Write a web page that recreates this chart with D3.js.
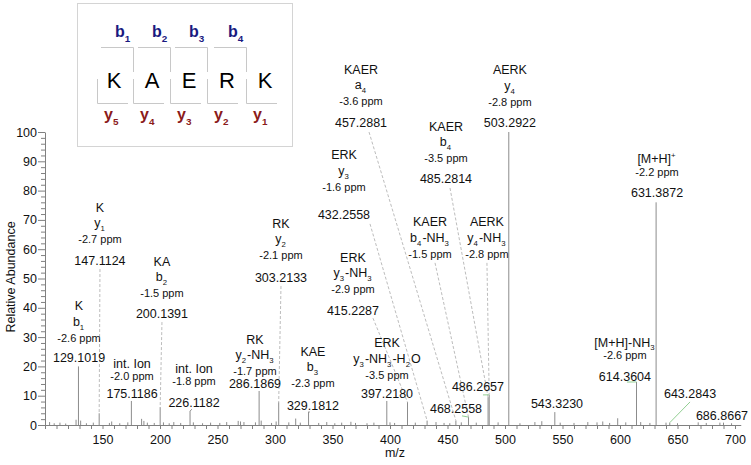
<!DOCTYPE html>
<html>
<head>
<meta charset="utf-8">
<script src="https://d3js.org/d3.v7.min.js"></script>
<style>
  body { margin: 0; background: #fff; }
  svg { font-family: "Liberation Sans", Arial, sans-serif; }
</style>
</head>
<body>
<div id="chart"></div>
<script>
// annotated peaks
var peakMz  = [129.1019, 147.1124, 175.1186, 200.1391, 226.1182, 286.1869, 303.2133, 329.1812,
               397.2180, 415.2287, 432.2558, 457.2881, 468.2558, 485.2814, 486.2657, 503.2922,
               543.3230, 614.3604, 631.3872, 643.2843, 686.8667];
var peakInt = [20, 4, 8.2, 6.1, 4.8, 11.6, 7.8, 4.5,
               8.2, 7.8, 1.5, 1.5, 2.7, 9.5, 10.3, 100,
               4.4, 14.7, 76, 0.8, 0.8];
var seqText = ["K", "K", "int. Ion", "KA", "int. Ion", "RK", "RK", "KAE",
               "ERK", "ERK", "ERK", "KAER", "KAER", "KAER", "AERK", "AERK",
               "", "[M+H]-NH_3", "[M+H]^+", "", ""];
var ionText = ["b_1", "y_1", "", "b_2", "", "y_2-NH_3", "y_2", "b_3",
               "y_3-NH_3-H_2O", "y_3-NH_3", "y_3", "a_4", "b_4-NH_3", "b_4", "y_4-NH_3", "y_4",
               "", "", "", "", ""];
var ppmVals = [-2.6, -2.7, -2.0, -1.5, -1.8, -1.7, -2.1, -2.3,
               -3.5, -2.9, -1.6, -3.6, -1.5, -3.5, -2.8, -2.8,
               null, -2.6, -2.2, null, null];

// small unlabelled peaks (noise)
var noiseMz  = [104, 108, 113, 118, 127, 131, 136, 142, 156, 158, 165, 172, 184, 186, 189, 195,
                203, 208, 212, 218, 229, 237, 244, 252, 258, 268, 270, 273, 283, 288, 297, 301,
                312, 318, 322, 338, 345, 352, 358, 366, 370, 380, 386, 400, 404, 422, 440, 447,
                452, 462, 475, 494, 513, 526, 532, 548, 560, 572, 580, 585, 591, 598, 605, 618,
                626, 640, 650, 668, 675, 690, 697];
var noiseInt = [1.0, 0.6, 0.8, 0.5, 1.8, 1.5, 0.6, 0.8, 0.7, 1.2, 0.6, 0.9, 2.1, 1.4, 0.8, 0.7,
                0.9, 0.6, 1.0, 0.7, 0.9, 0.6, 0.8, 0.7, 1.0, 1.4, 1.2, 1.0, 0.9, 1.5, 0.7, 1.2,
                0.9, 2.2, 0.8, 0.7, 1.0, 0.6, 0.8, 1.1, 0.7, 0.6, 0.8, 0.9, 0.7, 0.8, 1.0, 0.7,
                0.6, 0.9, 0.8, 0.9, 0.6, 1.0, 1.3, 0.8, 0.7, 1.0, 0.9, 1.2, 0.7, 2.3, 0.9, 1.0,
                0.7, 0.8, 0.6, 0.9, 0.7, 0.8, 0.6];

// label layout: number centre in data units, gap to ppm line (px), leader kind / offset
var labelAt = [[129.6, 22.9], [147.8, 56.3], [175.7, 10.9], [201.7, 38.2], [229.6, 7.8], [282.6, 14.3],
               [305.2, 50.5], [333.0, 6.8], [397.4, 10.6], [367.8, 39.2], [360.0, 71.7], [374.8, 103.4],
               [457.4, 5.5], [448.7, 84.3], [476.5, 13.0], [504.3, 103.1], [545.2, 7.2], [604.3, 16.7],
               [632.2, 79.2], [660.9, 10.6], [688.7, 3.4]];
var ppmGap  = [20, 21, 17, 20, 21, 12, 22, 22, 19, 21, 28, 21, 0, 20, 0, 21, 0, 21, 21, 0, 0];
var leader  = ["", "dash", "", "dash", "gray", "", "dash", "gray", "", "dash", "dash", "dash",
               "green", "dash", "green", "", "", "green", "", "green", ""];
var leadOff = [[0, 0], [0, 9], [0, 0], [0, 9], [-2, 7], [0, 0], [0, 9], [-3, 7], [0, 0], [20, 8], [26, 9], [8, 10],
               [6, 7], [4, 10], [5, 8], [0, 0], [0, 0], [2, 6], [0, 0], [0, 8], [0, 0]];
// detached name blocks (ppm line centre, data units) for the two -NH3 losses
var blockAt = { 12: [434.8, 58.4], 14: [484.3, 58.4] };
var blockLead = { 12: [5, 9], 14: [0, 9] };

// sequence inset
var residues = ["K", "A", "E", "R", "K"];
var bIons = ["b_1", "b_2", "b_3", "b_4"];
var yIons = ["y_5", "y_4", "y_3", "y_2", "y_1"];

var W = 751, H = 465;
var svg = d3.select("#chart").append("svg").attr("width", W).attr("height", H);

var x = d3.scaleLinear().domain([100, 705]).range([45, 740.75]);
var y = d3.scaleLinear().domain([0, 100]).range([425, 132]);

// rich text: _c subscript, ^c superscript
function rich(textSel, str, size) {
  var small = size * 0.62;
  var i = 0, buf = "";
  function flush() { if (buf) { textSel.append("tspan").text(buf); buf = ""; } }
  while (i < str.length) {
    var c = str[i];
    if ((c === "_" || c === "^") && i + 1 < str.length) {
      flush();
      var sh = c === "_" ? size * 0.3 : -size * 0.42;
      textSel.append("tspan").attr("dy", sh).attr("font-size", small).text(str[i + 1]);
      textSel.append("tspan").attr("dy", -sh).text("\u200a");
      i += 2;
    } else { buf += c; i++; }
  }
  flush();
}

// axes
var xAxis = d3.axisBottom(x).tickValues(d3.range(100, 701, 10))
  .tickFormat(function(d) { return (d % 50 === 0 && d > 100) ? d : ""; })
  .tickSize(4).tickSizeOuter(0).tickPadding(6.5);
var xg = svg.append("g").attr("transform", "translate(0,425)").call(xAxis);
xg.selectAll("text").attr("font-size", 12.5).attr("fill", "#111").attr("font-family", "Liberation Sans, Arial, sans-serif");

var yAxis = d3.axisLeft(y).tickValues(d3.range(0, 101, 2))
  .tickFormat(function(d) { return d % 10 === 0 ? d : ""; })
  .tickSize(4).tickSizeOuter(0).tickPadding(4);
var yg = svg.append("g").attr("transform", "translate(45,0)").call(yAxis);
yg.selectAll("text").attr("font-size", 12.5).attr("fill", "#111").attr("font-family", "Liberation Sans, Arial, sans-serif");
yg.selectAll(".tick").filter(function(d) { return d % 10 === 0; }).select("line").attr("x2", -7);
svg.selectAll(".domain, .tick line").attr("stroke", "#808080");

svg.append("text").attr("x", 395).attr("y", 457).attr("text-anchor", "middle")
  .attr("font-size", 12.5).attr("fill", "#111").text("m/z");
svg.append("text").attr("transform", "translate(15,277) rotate(-90)").attr("text-anchor", "middle")
  .attr("font-size", 12.5).attr("fill", "#111").text("Relative Abundance");

// peaks
var allPeaks = noiseMz.map(function(m, i) { return [m, noiseInt[i]]; })
  .concat(peakMz.map(function(m, i) { return [m, peakInt[i]]; }));
svg.append("g").selectAll("line").data(allPeaks).enter().append("line")
  .attr("x1", function(d) { return x(d[0]); }).attr("x2", function(d) { return x(d[0]); })
  .attr("y1", y(0)).attr("y2", function(d) { return y(d[1]); })
  .attr("stroke", "#8c8c8c").attr("stroke-width", 1);

// leaders
var lg = svg.append("g");
peakMz.forEach(function(m, i) {
  var kind = leader[i];
  var lx = x(labelAt[i][0]), ly = y(labelAt[i][1]);
  var px = x(m), py = y(peakInt[i]);
  if (kind) {
    var l = lg.append("line")
      .attr("x1", lx + leadOff[i][0]).attr("y1", ly + leadOff[i][1])
      .attr("x2", px).attr("y2", py);
    if (kind === "dash") l.attr("stroke", "#bdbdbd").attr("stroke-dasharray", "3,2");
    else if (kind === "green") l.attr("stroke", "#92cf92");
    else l.attr("stroke", "#9a9a9a");
  }
  if (blockAt[i]) {
    lg.append("line")
      .attr("x1", x(blockAt[i][0]) + blockLead[i][0]).attr("y1", y(blockAt[i][1]) + blockLead[i][1])
      .attr("x2", px).attr("y2", py)
      .attr("stroke", "#bdbdbd").attr("stroke-dasharray", "3,2");
  }
});

// labels
var tg = svg.append("g").attr("fill", "#111").attr("text-anchor", "middle");
peakMz.forEach(function(m, i) {
  var lx = x(labelAt[i][0]), ly = y(labelAt[i][1]);
  tg.append("text").attr("x", lx).attr("y", ly + 4.5).attr("font-size", 12.5).text(m.toFixed(4));
  var bx, by;
  if (blockAt[i]) { bx = x(blockAt[i][0]); by = y(blockAt[i][1]); }
  else if (ppmGap[i]) { bx = lx; by = ly - ppmGap[i]; }
  else return;
  if (ppmVals[i] !== null) {
    tg.append("text").attr("x", bx).attr("y", by + 4).attr("font-size", 11).text(ppmVals[i].toFixed(1) + " ppm");
  }
  var nameY = by;
  if (ionText[i]) {
    var t = tg.append("text").attr("x", bx).attr("y", by - 15 + 3).attr("font-size", 12.5);
    rich(t, ionText[i], 12.5);
    nameY = by - 32;
  } else {
    nameY = by - 13;
  }
  if (seqText[i]) {
    var s = tg.append("text").attr("x", bx).attr("y", nameY + 4.5).attr("font-size", 12.5);
    rich(s, seqText[i], 12.5);
  }
});

// sequence inset
var inset = svg.append("g");
inset.append("rect").attr("x", 77.5).attr("y", 3.5).attr("width", 215).attr("height", 143)
  .attr("fill", "#fff").attr("stroke", "#d4d4d4");
var gaps = [97, 133, 170, 207, 246];
var letterX = [114, 152, 189, 227, 265];
inset.selectAll("text.res").data(residues).enter().append("text").attr("class", "res")
  .attr("x", function(d, i) { return letterX[i]; }).attr("y", 88)
  .attr("text-anchor", "middle").attr("font-size", 22).attr("fill", "#000").text(function(d) { return d; });
bIons.forEach(function(b, i) {
  var g = gaps[i + 1];
  inset.append("path").attr("d", "M" + (g - 32) + ",47.5H" + (g + 0.5) + "V72")
    .attr("fill", "none").attr("stroke", "#c8c8c8");
  var t = inset.append("text").attr("x", g - 18).attr("y", 37).attr("font-size", 16)
    .attr("font-weight", "bold").attr("fill", "#1a1a80");
  rich(t, b, 16);
});
yIons.forEach(function(yy, i) {
  var g = gaps[i];
  inset.append("path").attr("d", "M" + (g + 0.5) + ",79V103.5H" + (g + 31))
    .attr("fill", "none").attr("stroke", "#c8c8c8");
  var t = inset.append("text").attr("x", g + 7).attr("y", 120).attr("font-size", 16)
    .attr("font-weight", "bold").attr("fill", "#8b1a1a");
  rich(t, yy, 16);
});
</script>
</body>
</html>
